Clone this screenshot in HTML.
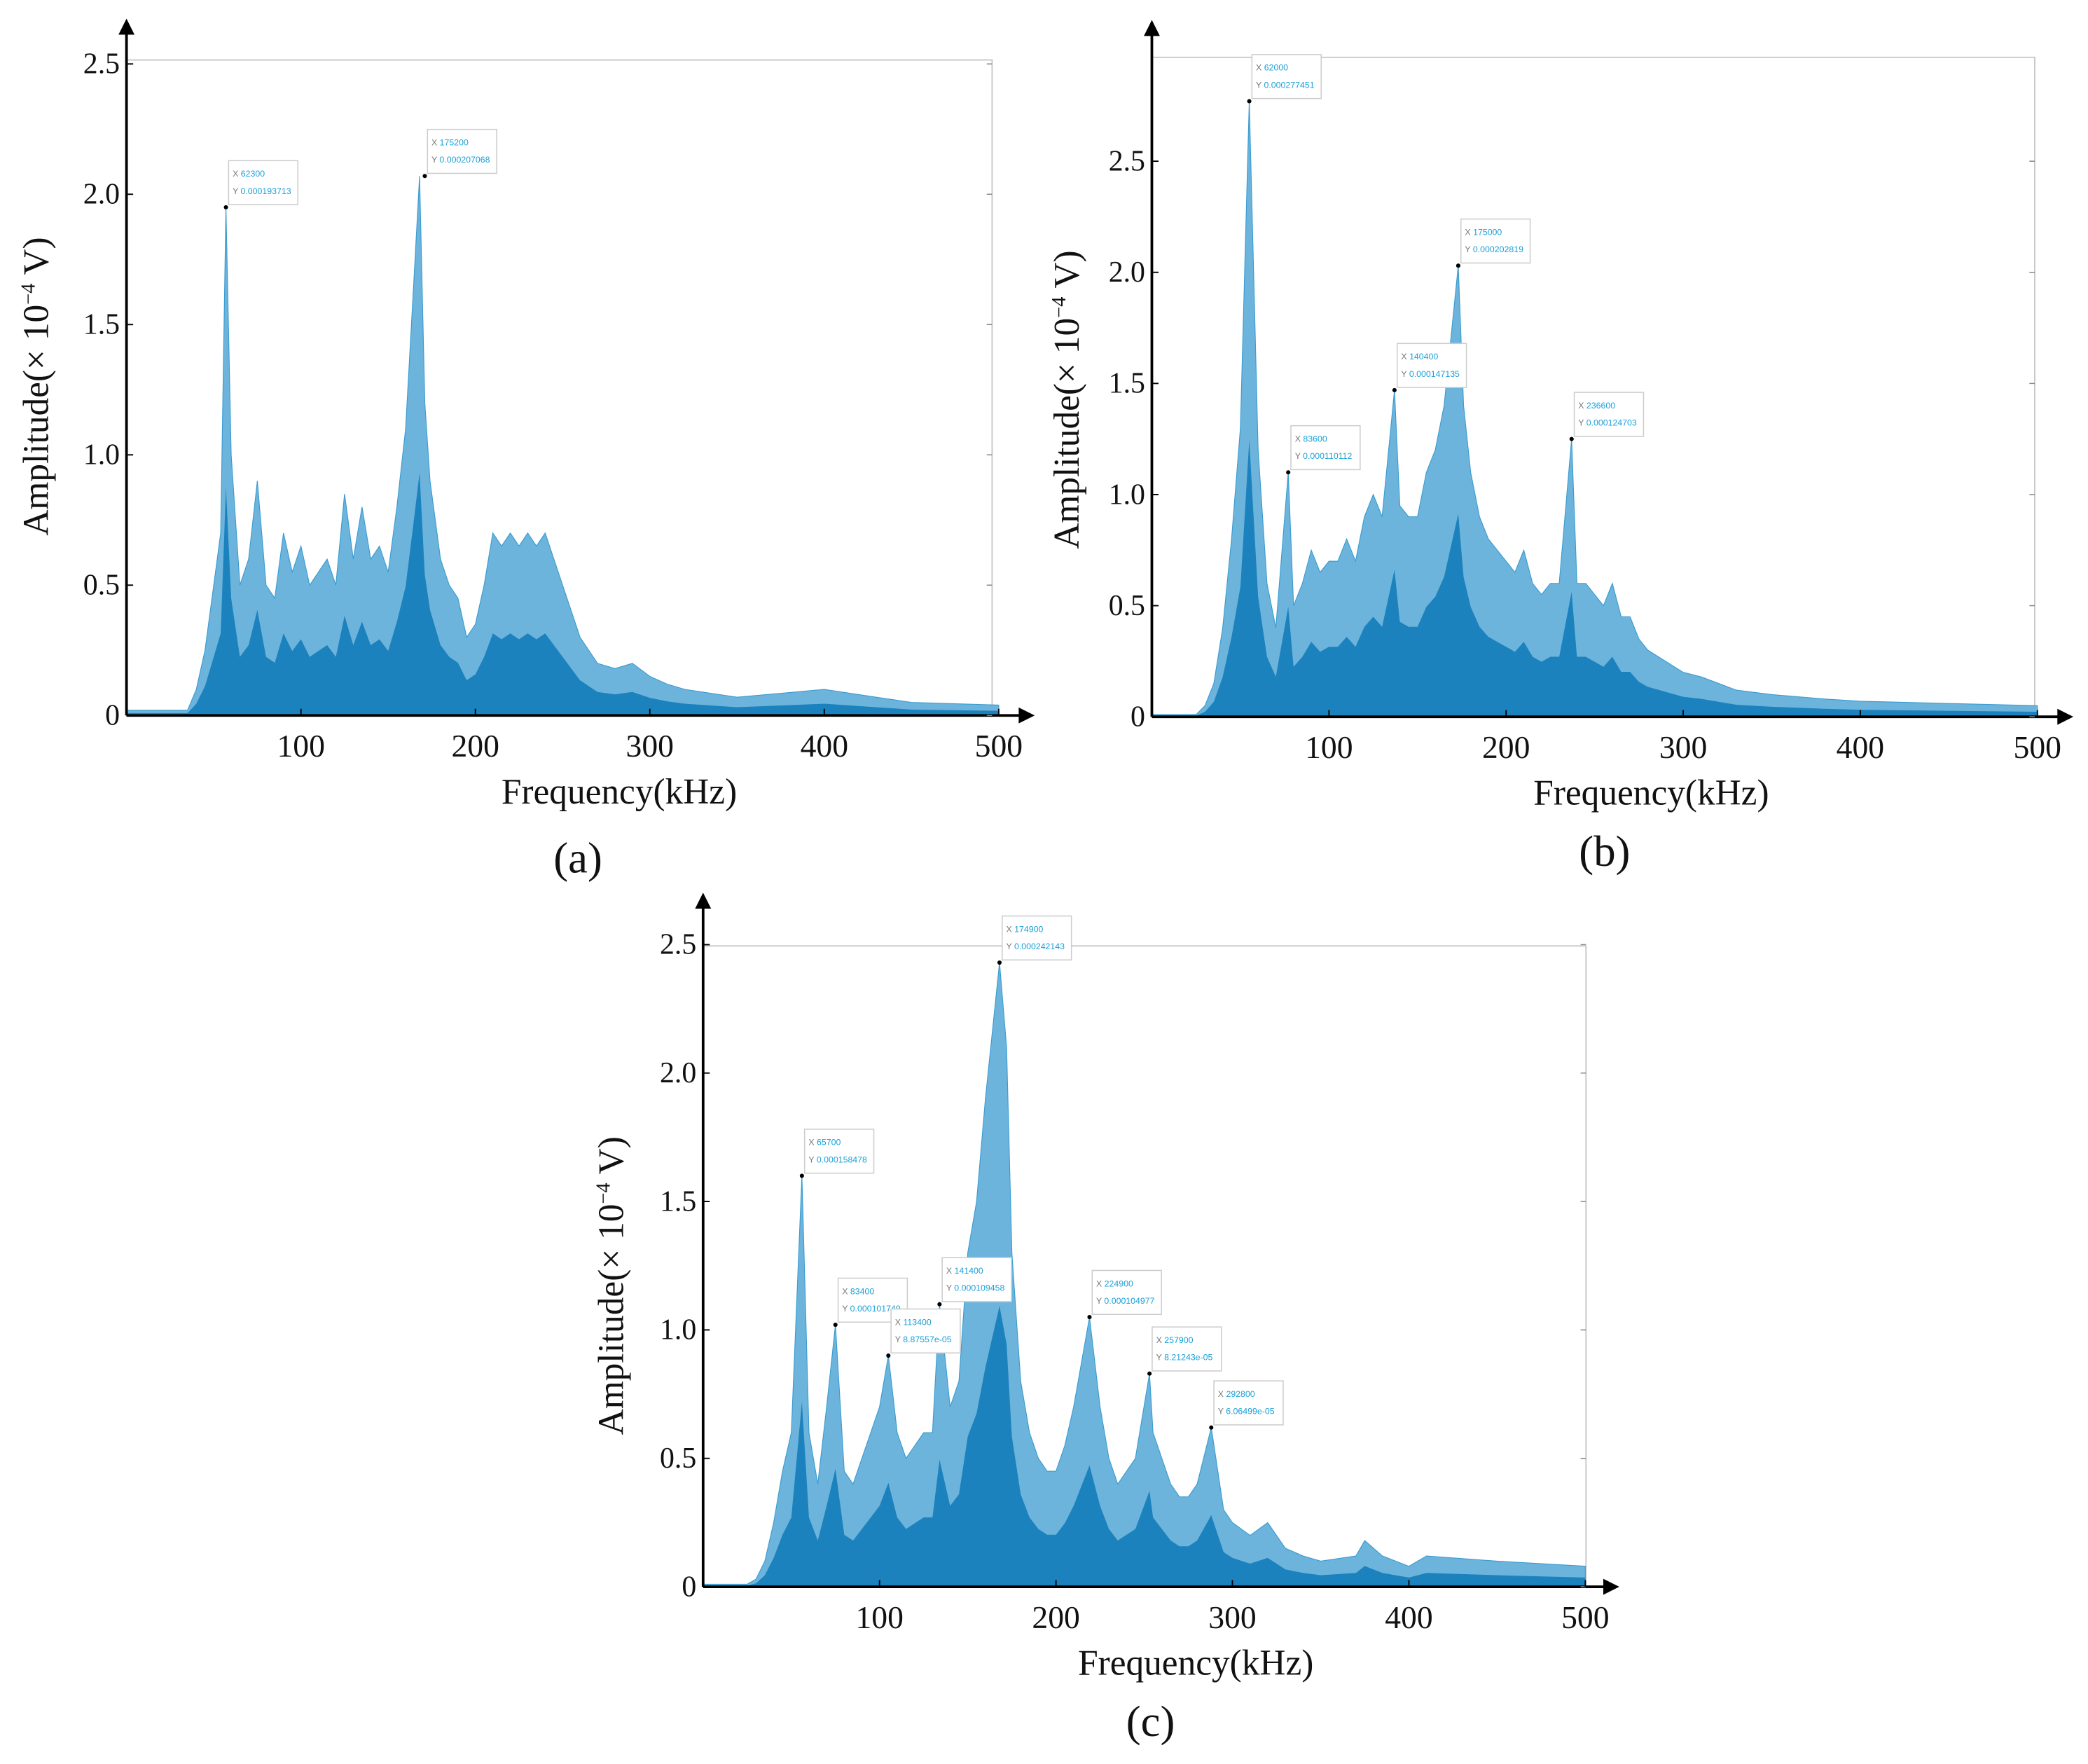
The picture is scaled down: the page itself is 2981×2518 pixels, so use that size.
<!DOCTYPE html>
<html><head><meta charset="utf-8"><style>
html,body{margin:0;padding:0;background:#fff;}
svg{display:block;}
text{font-family:"Liberation Serif",serif;fill:#111;}
.lbl{font-family:"Liberation Sans",sans-serif;font-size:6.5px;}
</style></head><body>
<svg id="fig" width="2981" height="2518" viewBox="0 0 1568 1324" preserveAspectRatio="none" xmlns="http://www.w3.org/2000/svg"></svg>
<script>
// Panel (a) data: frequency (kHz) and amplitude (x1e-4 V)
const aFreq=[0,35,40,45,50,54,57,60,65,70,75,80,85,90,95,100,105,110,115,120,125,130,135,140,145,150,155,160,165,168,171,174,180,185,190,195,200,205,210,215,220,225,230,235,240,245,250,255,260,265,270,280,290,300,310,320,350,400,420,450,500];
const aAmp=[0.02,0.02,0.1,0.25,0.5,0.7,1.95,1.0,0.5,0.6,0.9,0.5,0.45,0.7,0.55,0.65,0.5,0.55,0.6,0.5,0.85,0.6,0.8,0.6,0.65,0.55,0.8,1.1,1.7,2.07,1.2,0.9,0.6,0.5,0.45,0.3,0.35,0.5,0.7,0.65,0.7,0.65,0.7,0.65,0.7,0.6,0.5,0.4,0.3,0.25,0.2,0.18,0.2,0.15,0.12,0.1,0.07,0.1,0.08,0.05,0.04];
const aPeakF=[57,171];
const aPeakA=[1.95,2.07];
const aPeakX=["62300","175200"];
const aPeakY=["0.000193713","0.000207068"];
// Panel (b)
const bFreq=[0,25,30,35,40,45,50,55,60,65,70,77,80,85,90,95,100,105,110,115,120,125,130,137,140,145,150,155,160,165,173,176,180,185,190,195,200,205,210,215,220,225,230,237,240,245,250,255,260,265,270,275,280,290,300,310,320,330,350,380,400,450,500];
const bAmp=[0.01,0.01,0.05,0.15,0.4,0.8,1.3,2.77,1.2,0.6,0.4,1.1,0.5,0.6,0.75,0.65,0.7,0.7,0.8,0.7,0.9,1.0,0.9,1.47,0.95,0.9,0.9,1.1,1.2,1.4,2.03,1.4,1.1,0.9,0.8,0.75,0.7,0.65,0.75,0.6,0.55,0.6,0.6,1.25,0.6,0.6,0.55,0.5,0.6,0.45,0.45,0.35,0.3,0.25,0.2,0.18,0.15,0.12,0.1,0.08,0.07,0.06,0.05];
const bPeakF=[55,77,137,173,237];
const bPeakA=[2.77,1.1,1.47,2.03,1.25];
const bPeakX=["62000","83600","140400","175000","236600"];
const bPeakY=["0.000277451","0.000110112","0.000147135","0.000202819","0.000124703"];
// Panel (c)
const cFreq=[0,25,30,35,40,45,50,56,60,65,70,75,80,85,90,95,100,105,110,115,120,125,130,134,140,145,150,155,160,168,172,175,180,185,190,195,200,205,210,219,225,230,235,240,245,253,255,260,265,270,275,280,288,295,300,310,320,330,340,350,370,375,385,400,410,450,500];
const cAmp=[0.01,0.01,0.03,0.1,0.25,0.45,0.6,1.6,0.6,0.4,0.7,1.02,0.45,0.4,0.5,0.6,0.7,0.9,0.6,0.5,0.55,0.6,0.6,1.1,0.7,0.8,1.3,1.5,1.9,2.43,2.1,1.3,0.8,0.6,0.5,0.45,0.45,0.55,0.7,1.05,0.7,0.5,0.4,0.45,0.5,0.83,0.6,0.5,0.4,0.35,0.35,0.4,0.62,0.3,0.25,0.2,0.25,0.15,0.12,0.1,0.12,0.18,0.12,0.08,0.12,0.1,0.08];
const cPeakF=[56,75,105,134,168,219,253,288];
const cPeakA=[1.6,1.02,0.9,1.1,2.43,1.05,0.83,0.62];
const cPeakX=["65700","83400","113400","141400","174900","224900","257900","292800"];
const cPeakY=["0.000158478","0.000101749","8.87557e-05","0.000109458","0.000242143","0.000104977","8.21243e-05","6.06499e-05"];

const NS="http://www.w3.org/2000/svg";
const svg=document.getElementById('fig');
function mk(tag,attrs,parent){const e=document.createElementNS(NS,tag);for(const k in attrs)e.setAttribute(k,attrs[k]);(parent||svg).appendChild(e);return e;}

function panel(cfg,freq,amp,pf,pa,px,py){
  const g=mk('g',{});
  
  
  const X=f=>cfg.ox+f*cfg.xs, Y=v=>cfg.oy-v*cfg.ys;
  const fr=mk('path',{d:`M${cfg.ox},${cfg.ft} H${cfg.fr} V${cfg.oy}`,fill:'none',stroke:'#bbb','stroke-width':0.8},g);
  
  
  let pts=freq.map((f,i)=>X(f)+','+Y(amp[i])).join(' ');
  const area=mk('polygon',{points:X(freq[0])+','+cfg.oy+' '+pts+' '+X(freq[freq.length-1])+','+cfg.oy,fill:'#6db4dd',stroke:'#3a9ccf','stroke-width':0.6},g);
  
  
  let pts2=freq.map((f,i)=>X(f)+','+Y(amp[i]*0.45)).join(' ');
  const core=mk('polygon',{points:X(freq[0])+','+cfg.oy+' '+pts2+' '+X(freq[freq.length-1])+','+cfg.oy,fill:'#1c82bd'},g);
  
  
  const ax=mk('path',{d:`M${cfg.ox},${cfg.oy} V${cfg.at+8} M${cfg.ox},${cfg.oy} H${cfg.ar-8}`,stroke:'#000','stroke-width':2,fill:'none'},g);
  
  
  const ah=mk('path',{d:`M${cfg.ox-6},${cfg.at+12} L${cfg.ox},${cfg.at} L${cfg.ox+6},${cfg.at+12}Z M${cfg.ar-12},${cfg.oy-6} L${cfg.ar},${cfg.oy} L${cfg.ar-12},${cfg.oy+6}Z`,fill:'#000'},g);
  
  
  ['0','0.5','1.0','1.5','2.0','2.5'].forEach((t,i)=>{
    const v=i*0.5;
    const tk=mk('line',{x1:cfg.ox,x2:cfg.ox+5,y1:Y(v),y2:Y(v),stroke:'#000','stroke-width':1},g);
    
    
    const tr=mk('line',{x1:cfg.fr-4,x2:cfg.fr,y1:Y(v),y2:Y(v),stroke:'#888','stroke-width':0.8},g);
    
    
    const tx=mk('text',{x:cfg.ox-5,y:Y(v)+7,'text-anchor':'end','font-size':22},g);
    tx.textContent=t;
    
    
  });
  [100,200,300,400,500].forEach(t=>{
    const tk=mk('line',{x1:X(t),x2:X(t),y1:cfg.oy,y2:cfg.oy-5,stroke:'#000','stroke-width':1},g);
    
    
    const tx=mk('text',{x:X(t),y:cfg.oy+31,'text-anchor':'middle','font-size':24},g);
    tx.textContent=t;
    
    
  });
  const xt=mk('text',{x:cfg.xtx,y:cfg.oy+66,'text-anchor':'middle','font-size':27},g);
  xt.textContent='Frequency(kHz)';
  
  
  const yt=mk('text',{x:0,y:0,'text-anchor':'middle','font-size':27,transform:`translate(${cfg.ytx},${cfg.yty}) rotate(-90)`},g);
  yt.innerHTML=cfg.ytitle;
  
  
  const cap=mk('text',{x:cfg.capx,y:cfg.capy,'text-anchor':'middle','font-size':33},g);
  cap.textContent='('+cfg.id+')';
  
  
  pf.forEach((f,i)=>{
    const x=X(f),y=Y(pa[i]);
    const a=mk('g',{},g);
    
    
    mk('rect',{x:x+2,y:y-35,width:52,height:33,fill:'#fff',stroke:'#ccc','stroke-width':0.8},a);
    mk('circle',{cx:x,cy:y,r:1.6,fill:'#000'},a);
    const t1=mk('text',{x:x+5,y:y-23,class:'lbl'},a);
    t1.innerHTML='<tspan fill="#777">X </tspan><tspan fill="#1aa0d8">'+px[i]+'</tspan>';
    const t2=mk('text',{x:x+5,y:y-10,class:'lbl'},a);
    t2.innerHTML='<tspan fill="#777">Y </tspan><tspan fill="#1aa0d8">'+py[i]+'</tspan>';
  });
}
panel({id:'a',ox:95,oy:537,xs:1.31,ys:195.6,ft:45,fr:745,at:14,ar:777,xtx:465,ytx:36,yty:290,capx:434,capy:655,
  ytitle:'Amplitude(× 10<tspan font-size="15" dy="-10">−4</tspan><tspan dy="10">  V)</tspan>'},aFreq,aAmp,aPeakF,aPeakA,aPeakX,aPeakY);
panel({id:'b',ox:865,oy:538,xs:1.33,ys:166.8,ft:43,fr:1528,at:15,ar:1557,xtx:1240,ytx:810,yty:300,capx:1205,capy:650,
  ytitle:'Amplitude(×   10<tspan font-size="15" dy="-10">−4</tspan><tspan dy="10"> V)</tspan>'},bFreq,bAmp,bPeakF,bPeakA,bPeakX,bPeakY);
panel({id:'c',ox:528,oy:1191,xs:1.325,ys:192.8,ft:710,fr:1191,at:670,ar:1216,xtx:898,ytx:468,yty:965,capx:864,capy:1303,
  ytitle:'Amplitude(×   10<tspan font-size="15" dy="-10">−4</tspan><tspan dy="10"> V)</tspan>'},cFreq,cAmp,cPeakF,cPeakA,cPeakX,cPeakY);
</script>
</body></html>
